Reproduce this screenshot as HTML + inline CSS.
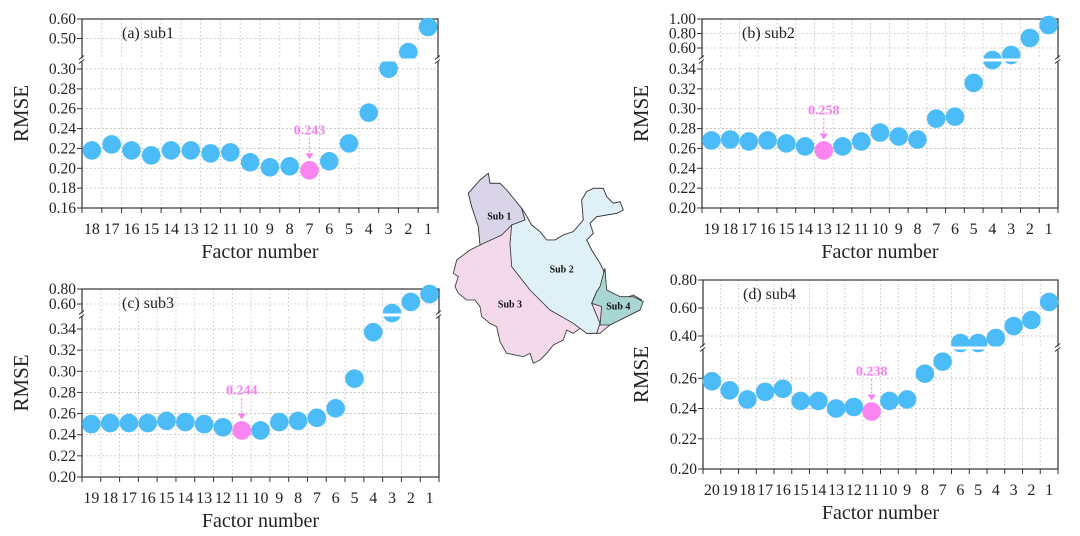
<!DOCTYPE html>
<html><head><meta charset="utf-8"><style>
body{margin:0;background:#fff;}
svg{display:block;font-family:"Liberation Serif",serif;}
</style></head><body>
<svg id="fig" width="1080" height="536" viewBox="0 0 1080 536">
<g id="map" transform="translate(440,160) scale(0.3333)" stroke="#333" stroke-width="2.5" stroke-linejoin="round">
<polygon fill="#f3d9ea" points="145,40 150,70 180,70 200,90 245,145 255,160 275,195 300,215 320,240 345,240 370,225 400,215 430,180 425,120 440,95 460,85 490,85 500,110 520,130 540,125 550,150 530,160 470,170 450,190 460,220 440,240 455,270 480,310 490,330 495,360 470,395 455,430 490,420 540,420 580,405 605,420 600,450 560,470 510,495 480,520 440,520 420,505 400,520 380,510 370,540 340,555 320,580 300,600 280,610 270,580 250,590 200,580 180,545 170,500 150,490 125,470 120,440 105,420 80,420 55,400 45,380 55,350 40,340 50,300 90,270 120,255 115,200 95,140 85,100 120,60"/>
<polygon fill="#d9d4e8" points="85,100 120,60 145,40 150,70 180,70 200,90 245,145 255,180 215,195 185,225 120,255 115,200 95,140"/>
<polygon fill="#dff1f7" points="215,195 255,180 245,145 255,160 275,195 300,215 320,240 345,240 370,225 400,215 430,180 425,120 440,95 460,85 490,85 500,110 520,130 540,125 550,150 530,160 470,170 450,190 460,220 440,240 455,270 480,310 490,330 495,360 470,395 455,430 480,490 470,520 440,520 420,505 400,490 330,450 270,390 215,320 210,250"/>
<polygon fill="#a9d6d2" points="495,325 480,380 470,395 455,430 485,440 480,495 510,495 560,470 600,450 610,425 580,410 540,410 500,390"/>
<g font-weight="bold" font-size="30" fill="#111" stroke="none" font-family="Liberation Serif, serif">
<text x="178" y="178" text-anchor="middle">Sub 1</text>
<text x="365" y="338" text-anchor="middle">Sub 2</text>
<text x="210" y="443" text-anchor="middle">Sub 3</text>
<text x="535" y="448" text-anchor="middle">Sub 4</text>
</g>
</g>
</svg>
<script>
// Panel (a) sub1
const catsA = [18,17,16,15,14,13,12,11,10,9,8,7,6,5,4,3,2,1];
const valsA = [0.218,0.224,0.218,0.213,0.218,0.218,0.215,0.216,0.206,0.201,0.202,0.198,0.207,0.225,0.256,0.302,0.411,0.559];
const ticksA = ["0.16","0.18","0.20","0.22","0.24","0.26","0.28","0.30","0.50","0.60"];
const bestA = 7; const bestLabelA = "0.243";
// Panel (b) sub2
const catsB = [19,18,17,16,15,14,13,12,11,10,9,8,7,6,5,4,3,2,1];
const valsB = [0.268,0.269,0.267,0.268,0.265,0.262,0.258,0.262,0.267,0.276,0.272,0.269,0.290,0.292,0.326,0.451,0.513,0.738,0.917];
const ticksB = ["0.20","0.22","0.24","0.26","0.28","0.30","0.32","0.34","0.60","0.80","1.00"];
const bestB = 13; const bestLabelB = "0.258";
// Panel (c) sub3
const catsC = [19,18,17,16,15,14,13,12,11,10,9,8,7,6,5,4,3,2,1];
const valsC = [0.250,0.251,0.251,0.251,0.253,0.252,0.250,0.247,0.244,0.244,0.252,0.253,0.256,0.265,0.293,0.337,0.506,0.627,0.733];
const ticksC = ["0.20","0.22","0.24","0.26","0.28","0.30","0.32","0.34","0.60","0.80"];
const bestC = 11; const bestLabelC = "0.244";
// Panel (d) sub4
const catsD = [20,19,18,17,16,15,14,13,12,11,10,9,8,7,6,5,4,3,2,1];
const valsD = [0.258,0.252,0.246,0.251,0.253,0.245,0.245,0.240,0.241,0.238,0.245,0.246,0.263,0.271,0.330,0.330,0.380,0.471,0.514,0.643];
const ticksD = ["0.20","0.22","0.24","0.26","0.40","0.60","0.80"];
const bestD = 11; const bestLabelD = "0.238";

const NS = "http://www.w3.org/2000/svg";
const svg = document.getElementById('fig');
function mk(tag, attrs, parent){const e=document.createElementNS(NS,tag);for(const k in attrs)e.setAttribute(k,attrs[k]);(parent||svg).appendChild(e);return e;}

function drawPanel(p){
  const g = mk('g',{});
  
  
  const yOf = v => {
    const a=p.anchors;
    if(v<=a[0][0]) return a[0][1];
    for(let i=1;i<a.length;i++){ if(v<=a[i][0]||i===a.length-1){const [v0,y0]=a[i-1],[v1,y1]=a[i];return y0+(v-v0)/(v1-v0)*(y1-y0);} }
  };
  const n=p.cats.length, w=(p.x1-p.x0)/n;
  const xOf = i => p.x0 + w*(i+0.5);
  p.ticks.forEach(t=>{
    const y=yOf(parseFloat(t));
    const gl=mk('line',{x1:p.x0,x2:p.x1,y1:y,y2:y,stroke:'#aaa','stroke-width':0.8,'stroke-dasharray':'1.5,2.5'},g);
    
    
    const tk=mk('line',{x1:p.x0-5,x2:p.x0,y1:y,y2:y,stroke:'#333','stroke-width':1},g);
    
    
    const tl=mk('text',{x:p.x0-6,y:y+5,'text-anchor':'end','font-size':15.5,fill:'#222'},g);
    tl.textContent=t;
    
    
  });
  for(let i=1;i<n;i++){
    const x=p.x0+w*i;
    const gl=mk('line',{x1:x,x2:x,y1:p.y0,y2:p.y1,stroke:'#bbb','stroke-width':0.8,'stroke-dasharray':'1.5,2.5'},g);
    
    
  }
  for(let i=0;i<=n;i++){
    const x=p.x0+w*i;
    const tk=mk('line',{x1:x,x2:x,y1:p.y1,y2:p.y1+5,stroke:'#333','stroke-width':1},g);
    
    
  }
  p.cats.forEach((c,i)=>{
    const tl=mk('text',{x:xOf(i),y:p.y1+26,'text-anchor':'middle','font-size':16,fill:'#222'},g);
    tl.textContent=c;
    
    
  });
  const fr=mk('rect',{x:p.x0,y:p.y0,width:p.x1-p.x0,height:p.y1-p.y0,fill:'none',stroke:'#333','stroke-width':1.2},g);
  
  
  p.vals.forEach((v,i)=>{
    const best = p.cats[i]===p.best;
    const c=mk('circle',{cx:xOf(i),cy:yOf(v),r:9.3,fill:best?'#fb85f0':'#4bbcf8'},g);
    
    
  });
  const bb=mk('rect',{x:p.x0-6,y:p.brk-1.5,width:p.x1-p.x0+12,height:3,fill:'#fff'},g);
  
  
  [p.x0,p.x1].forEach(x=>{
    const bm=mk('path',{d:`M${x-3},${p.brk-0.5} l5,-4 M${x-3},${p.brk+3.5} l5,-4`,stroke:'#333','stroke-width':1,fill:'none'},g);
    
    
  });
  const bi=p.cats.indexOf(p.best), bx=xOf(bi), by=yOf(p.vals[bi]);
  const al=mk('text',{x:bx,y:by-36,'text-anchor':'middle','font-size':14,'font-weight':'bold',fill:'#f77ff0'},g);
  al.textContent=p.bestLabel;
  
  
  const ar=mk('path',{d:`M${bx},${by-32} L${bx},${by-14}`,stroke:'#f77ff0','stroke-width':1.2,'stroke-dasharray':'2,2',fill:'none'},g);
  
  
  const ah=mk('path',{d:`M${bx-4},${by-17} L${bx+4},${by-17} L${bx},${by-11} Z`,fill:'#f77ff0'},g);
  
  
  const pl=mk('text',{x:p.x0+40,y:p.y0+19,'font-size':16,fill:'#222'},g);
  pl.textContent=p.title;
  
  
  const xt=mk('text',{x:(p.x0+p.x1)/2,y:p.y1+50,'text-anchor':'middle','font-size':20,fill:'#222'},g);
  xt.textContent='Factor number';
  
  
  const yc=(p.y0+p.y1)/2;
  const yt=mk('text',{x:p.yTitleX,y:yc,'text-anchor':'middle','font-size':21,fill:'#222',transform:`rotate(-90 ${p.yTitleX} ${yc})`},g);
  yt.textContent='RMSE';
  
  
}

drawPanel({name:'panel-a-sub1',title:'(a) sub1',cats:catsA,vals:valsA,ticks:ticksA,best:bestA,bestLabel:bestLabelA,
  x0:82,x1:438,y0:19,y1:208,brk:60,yTitleX:28,anchors:[[0.16,208],[0.30,69],[0.50,38.5],[0.60,19]]});
drawPanel({name:'panel-b-sub2',title:'(b) sub2',cats:catsB,vals:valsB,ticks:ticksB,best:bestB,bestLabel:bestLabelB,
  x0:702,x1:1058,y0:19,y1:208,brk:60,yTitleX:648,anchors:[[0.20,208],[0.34,69],[0.60,48],[1.00,19]]});
drawPanel({name:'panel-c-sub3',title:'(c) sub3',cats:catsC,vals:valsC,ticks:ticksC,best:bestC,bestLabel:bestLabelC,
  x0:82,x1:439,y0:289,y1:477,brk:315,yTitleX:28,anchors:[[0.20,477],[0.34,329],[0.60,304],[0.80,289]]});
drawPanel({name:'panel-d-sub4',title:'(d) sub4',cats:catsD,vals:valsD,ticks:ticksD,best:bestD,bestLabel:bestLabelD,
  x0:703,x1:1058,y0:280,y1:469,brk:348,yTitleX:648,anchors:[[0.20,469],[0.28,348],[0.40,336],[0.80,280]]});
</script>
</body></html>
